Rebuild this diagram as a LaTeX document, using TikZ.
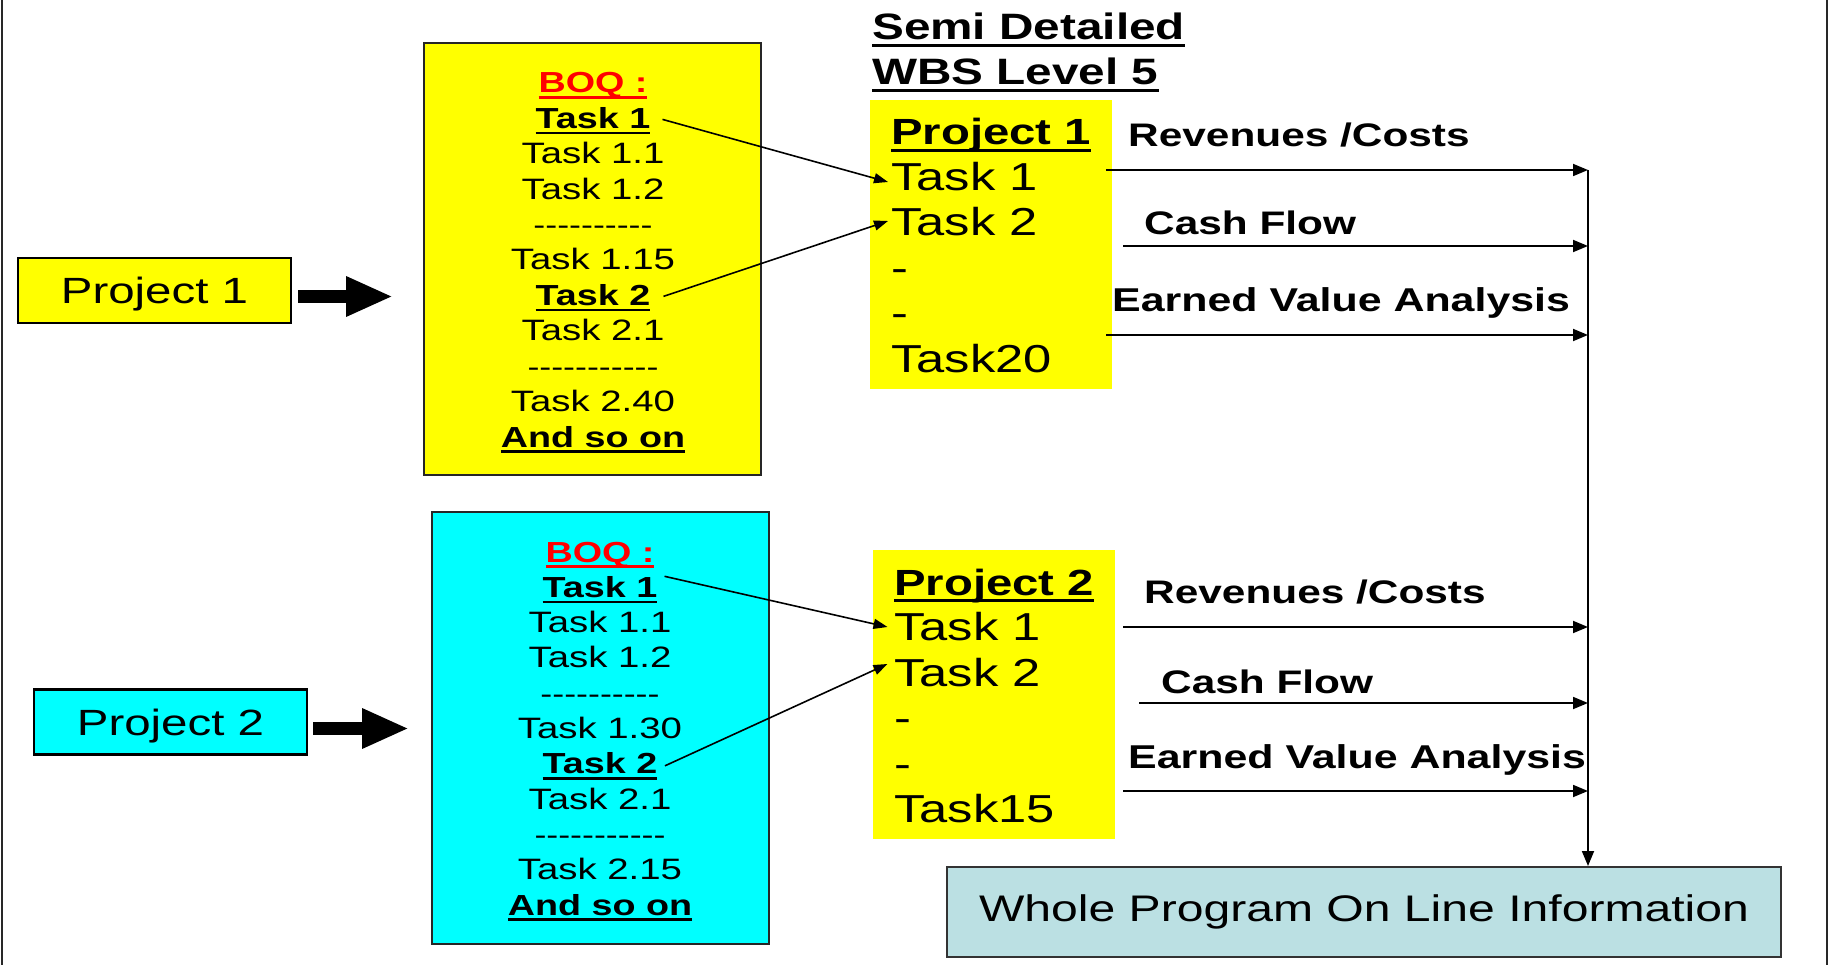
\documentclass[tikz,border=0pt]{standalone}
\usepackage{fontspec}
\setmainfont{Liberation Sans}[FakeStretch=1.3]
\usetikzlibrary{arrows.meta}
\definecolor{boxyellow}{RGB}{255,255,0}
\definecolor{boxcyan}{RGB}{0,255,255}
\definecolor{infoblue}{RGB}{187,224,227}
\definecolor{frameline}{RGB}{40,40,40}
% underline drawn as a rule just under the baseline
\newcommand\ulbox[1]{\setbox0=\hbox{#1}\rlap{\rule[-0.2em]{\wd0}{0.08em}}\box0}
\newcommand\fs[1]{\fontsize{#1}{#1}\selectfont}
% single hyphen that never joins into a dash ligature
\newcommand\hy{-\kern0pt}
\tikzset{
  frame/.style={draw=frameline, line width=2pt},
  projbox/.style={draw=black, line width=2.2pt, minimum width=273pt, minimum height=65pt,
    inner sep=0pt, font=\fs{36.5}, text depth=0pt},
  boqbox/.style={draw=black!85, line width=2pt, minimum width=337pt, minimum height=432pt, inner sep=0pt},
  boqline/.style={anchor=base, inner sep=0pt, font=\fs{29.5}},
  boqdash/.style={anchor=base, inner sep=0pt, font=\fs{27.5}},
  boqhead/.style={anchor=base, inner sep=0pt, font=\fs{29}\bfseries},
  wbsbox/.style={fill=boxyellow, minimum width=242pt, minimum height=289pt, inner sep=0pt},
  wbsline/.style={anchor=base west, inner sep=0pt, font=\fs{39}},
  wbshead/.style={anchor=base west, inner sep=0pt, font=\fs{36.4}\bfseries},
  title/.style={anchor=base west, inner sep=0pt, font=\fs{36.7}\bfseries},
  flowlabel/.style={anchor=base west, inner sep=0pt, font=\fs{32.6}\bfseries},
  evalabel/.style={anchor=base west, inner sep=0pt, font=\fs{33}\bfseries},
  infobox/.style={draw=black!80, line width=2pt, fill=infoblue, minimum width=834pt,
    minimum height=90pt, inner sep=0pt, font=\fs{37}},
  conn/.style={line width=1.8pt, -{Triangle[length=15pt,width=12pt]}},
  link/.style={line width=1.6pt, -{Triangle[length=14pt,width=10pt]}},
  blockarrow/.style={line width=13pt, -{Triangle[length=47pt,width=37pt]}},
}
\begin{document}
\begin{tikzpicture}[x=1pt,y=-1pt]
\useasboundingbox (0,0) rectangle (1829,965);
% side rules of the page
\draw[frame] (2,0) -- (2,965);
\draw[frame] (1827,0) -- (1827,965);

% project boxes
\node[projbox, fill=boxyellow] (p1) at (154.5,290.5) {Project 1};
\node[projbox, fill=boxcyan] (p2) at (170.5,722) {Project 2};

% bill of quantities boxes
\node[boqbox, fill=boxyellow] (boq1) at (592.5,259) {};
\node[boqbox, fill=boxcyan] (boq2) at (600,728) {};

\draw[blockarrow] ([xshift=6pt,yshift=-6pt]p1.east) -- ++(95,0);
\draw[blockarrow] ([xshift=5pt,yshift=-6.5pt]p2.east) -- ++(96,0);

% BOQ of project 1
\node[boqhead] (b1h)  at (593,93)    {\textcolor{red}{\ulbox{BOQ :}}};
\node[boqhead] (b1t1) at (593,128.4) {\ulbox{Task 1}};
\node[boqline] (b1a)  at (593,163.8) {Task 1.1};
\node[boqline] (b1b)  at (593,199.2) {Task 1.2};
\node[boqdash] (b1c)  at (593,234.6) {\hy\hy\hy\hy\hy\hy\hy\hy\hy\hy};
\node[boqline] (b1d)  at (593,270)   {Task 1.15};
\node[boqhead] (b1t2) at (593,305.4) {\ulbox{Task 2}};
\node[boqline] (b1e)  at (593,340.8) {Task 2.1};
\node[boqdash] (b1f)  at (593,376.2) {\hy\hy\hy\hy\hy\hy\hy\hy\hy\hy\hy};
\node[boqline] (b1g)  at (593,411.6) {Task 2.40};
\node[boqhead] (b1z)  at (593,447)   {\ulbox{And so on}};

% BOQ of project 2
\node[boqhead] (b2h)  at (600,562)   {\textcolor{red}{\ulbox{BOQ :}}};
\node[boqhead] (b2t1) at (600,597.3) {\ulbox{Task 1}};
\node[boqline] (b2a)  at (600,632.6) {Task 1.1};
\node[boqline] (b2b)  at (600,667.9) {Task 1.2};
\node[boqdash] (b2c)  at (600,703.2) {\hy\hy\hy\hy\hy\hy\hy\hy\hy\hy};
\node[boqline] (b2d)  at (600,738.5) {Task 1.30};
\node[boqhead] (b2t2) at (600,773.8) {\ulbox{Task 2}};
\node[boqline] (b2e)  at (600,809.1) {Task 2.1};
\node[boqdash] (b2f)  at (600,844.4) {\hy\hy\hy\hy\hy\hy\hy\hy\hy\hy\hy};
\node[boqline] (b2g)  at (600,879.7) {Task 2.15};
\node[boqhead] (b2z)  at (600,915)   {\ulbox{And so on}};

% heading
\node[title] (t1) at (872,40) {\ulbox{Semi Detailed}};
\node[title] (t2) at (872,85) {\ulbox{WBS Level 5}};

% WBS boxes
\node[wbsbox] (w1) at (991,244.5) {};
\node[wbsbox] (w2) at (994,694.5) {};

\node[wbshead] (w1h)  at (891,145)   {\ulbox{Project 1}};
\node[wbsline] (w1t1) at (891,190.5) {Task 1};
\node[wbsline] (w1t2) at (891,236)   {Task 2};
\node[wbsline] (w1a)  at (891,281.5) {-};
\node[wbsline] (w1b)  at (891,327)   {-};
\node[wbsline] (w1z)  at (891,372.5) {Task20};

\node[wbshead] (w2h)  at (894,595)   {\ulbox{Project 2}};
\node[wbsline] (w2t1) at (894,640.5) {Task 1};
\node[wbsline] (w2t2) at (894,686)   {Task 2};
\node[wbsline] (w2a)  at (894,731.5) {-};
\node[wbsline] (w2b)  at (894,777)   {-};
\node[wbsline] (w2z)  at (894,822.5) {Task15};

% BOQ tasks feeding the WBS tasks
\draw[link] ([xshift=12pt,yshift=9pt]b1t1.base east) -- ([xshift=-3pt,yshift=8.5pt]w1t1.base west);
\draw[link] ([xshift=13pt,yshift=9pt]b1t2.base east) -- ([xshift=-3pt,yshift=15pt]w1t2.base west);
\draw[link] ([xshift=7pt,yshift=21pt]b2t1.base east) -- ([xshift=-6.5pt,yshift=13.5pt]w2t1.base west);
\draw[link] ([xshift=7.5pt,yshift=8pt]b2t2.base east) -- ([xshift=-6.5pt,yshift=22pt]w2t2.base west);

% summary box
\node[infobox] (info) at (1364,912) {Whole Program On Line Information};

% output flows
\node[flowlabel] (l1r) at (1128,147) {Revenues /Costs};
\node[flowlabel] (l1c) at (1144,235) {Cash Flow};
\node[evalabel]  (l1e) at (1112,312) {Earned Value Analysis};
\node[flowlabel] (l2r) at (1144,603) {Revenues /Costs};
\node[flowlabel] (l2c) at (1161,693) {Cash Flow};
\node[evalabel]  (l2e) at (1128,768) {Earned Value Analysis};

\coordinate (bus) at (1588,170);
\coordinate (f1rs) at (1106,170);
\coordinate (f1cs) at (1123,246);
\coordinate (f1es) at (1106,335);
\coordinate (f2rs) at (1123,627);
\coordinate (f2cs) at (1139,703);
\coordinate (f2es) at (1123,791);

\draw[conn] (f1rs) -- (f1rs -| bus);
\draw[conn] (f1cs) -- (f1cs -| bus);
\draw[conn] (f1es) -- (f1es -| bus);
\draw[conn] (f2rs) -- (f2rs -| bus);
\draw[conn] (f2cs) -- (f2cs -| bus);
\draw[conn] (f2es) -- (f2es -| bus);
\draw[conn] (bus) -- (bus |- info.north);
\end{tikzpicture}
\end{document}
